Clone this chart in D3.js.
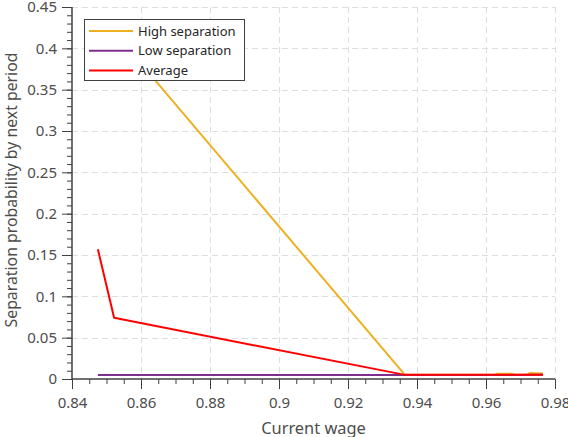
<!DOCTYPE html>
<html><head><meta charset="utf-8">
<script src="https://cdn.jsdelivr.net/npm/d3@7"></script>
<style>
html,body{margin:0;padding:0;background:#fff;}
svg{display:block;font-family:"Noto Sans",sans-serif;}
</style></head>
<body><svg id="chart" width="568" height="437"></svg>
<script>
// Data
const seriesNames = ["High separation", "Low separation", "Average"];
const wageHigh = [0.8475, 0.8522, 0.9365, 0.9500, 0.9625, 0.9632, 0.9675, 0.9685, 0.9720, 0.9728, 0.9765];
const probHigh = [0.400, 0.420, 0.005, 0.005, 0.005, 0.0064, 0.0064, 0.0052, 0.0052, 0.0074, 0.0068];
const wageLow = [0.8475, 0.9000, 0.9365, 0.9765];
const probLow = [0.0047, 0.0047, 0.0047, 0.0050];
const wageAvg = [0.8475, 0.8522, 0.9365, 0.9765];
const probAvg = [0.157, 0.074, 0.005, 0.005];
const xTicks = [0.84, 0.86, 0.88, 0.90, 0.92, 0.94, 0.96, 0.98];
const yTicks = [0, 0.05, 0.10, 0.15, 0.20, 0.25, 0.30, 0.35, 0.40, 0.45];
const colors = ["#EDB120", "#7E2F8E", "#FF0000"];

const W = 568, H = 437;
const m = {left: 72, top: 7, right: 13, bottom: 58};
const pw = W - m.left - m.right, ph = H - m.top - m.bottom;
const svg = d3.select("#chart");
const g = svg.append("g").attr("transform", `translate(${m.left},${m.top})`);

const x = d3.scaleLinear().domain([0.84, 0.98]).range([0, pw]);
const y = d3.scaleLinear().domain([0, 0.45]).range([ph, 0]);
const fmt = d => String(+d.toFixed(2));

// grid
const grid = g.append("g").attr("stroke", "#dedede").attr("stroke-width", 1).attr("stroke-dasharray", "6,4");
grid.selectAll(".gx").data(xTicks.slice(1)).join("line")
  .attr("x1", d => Math.round(x(d)) + 0.5).attr("x2", d => Math.round(x(d)) + 0.5)
  .attr("y1", 0).attr("y2", ph);
grid.selectAll(".gy").data(yTicks.slice(1)).join("line")
  .attr("y1", d => Math.round(y(d)) + 0.5).attr("y2", d => Math.round(y(d)) + 0.5)
  .attr("x1", 0).attr("x2", pw);

// lines
g.append("clipPath").attr("id", "clip").append("rect").attr("width", pw).attr("height", ph);
const series = [
  {name: seriesNames[0], xs: wageHigh, ys: probHigh, c: colors[0]},
  {name: seriesNames[1], xs: wageLow, ys: probLow, c: colors[1]},
  {name: seriesNames[2], xs: wageAvg, ys: probAvg, c: colors[2]}
];
const line = d3.line().x(d => x(d[0])).y(d => y(d[1]));
const lg = g.append("g").attr("clip-path", "url(#clip)");
series.forEach(s => {
  lg.append("path").datum(s.xs.map((v, i) => [v, s.ys[i]]))
    .attr("d", line).attr("fill", "none").attr("stroke", s.c)
    .attr("stroke-width", 2).attr("stroke-linejoin", "round");
});

// axes
const axisColor = "#404040", textColor = "#4d4d4d";
const xMinor = d3.range(0, 29).map(i => 0.84 + i * 0.005);
const yMinor = d3.range(0, 46).map(i => i * 0.01);
const xa = g.append("g").attr("transform", `translate(0,${ph})`)
  .call(d3.axisBottom(x).tickValues(xMinor).tickSize(5).tickFormat(""));
const xa2 = g.append("g").attr("transform", `translate(0,${ph})`)
  .call(d3.axisBottom(x).tickValues(xTicks).tickSize(10).tickPadding(8).tickFormat(fmt));
const ya = g.append("g").call(d3.axisLeft(y).tickValues(yMinor).tickSize(5).tickFormat(""));
const ya2 = g.append("g").call(d3.axisLeft(y).tickValues(yTicks).tickSize(10).tickPadding(5).tickFormat(fmt));
[xa, xa2, ya, ya2].forEach(a => {
  a.selectAll("path.domain").attr("stroke", axisColor).attr("stroke-width", 1.5);
  a.selectAll(".tick line").attr("stroke", axisColor).attr("stroke-width", 1);
  a.selectAll("text").attr("fill", textColor).style("font-size", "15px").style("font-family", "Noto Sans");
});
xa2.selectAll("path.domain").attr("d", `M0,0H${pw}`);
ya2.selectAll("path.domain").attr("d", `M0,${ph}V0`);
xa.selectAll("path.domain").remove();
ya.selectAll("path.domain").remove();

// axis labels
svg.append("text").attr("x", m.left + pw / 2).attr("y", 434).attr("text-anchor", "middle")
  .attr("fill", textColor).style("font-size", "16.4px").text("Current wage");
svg.append("text").attr("transform", `translate(17,${m.top + ph / 2 - 3}) rotate(-90)`)
  .attr("text-anchor", "middle").attr("fill", textColor).style("font-size", "15.8px")
  .text("Separation probability by next period");

// legend
const leg = svg.append("g").attr("transform", "translate(84,19)");
leg.append("rect").attr("x", 0.5).attr("y", 0.5).attr("width", 160).attr("height", 61)
  .attr("fill", "#fff").attr("stroke", "#404040").attr("stroke-width", 1);
series.forEach((s, i) => {
  const yy = 12 + i * 19.7;
  leg.append("line").attr("x1", 5).attr("x2", 49).attr("y1", yy).attr("y2", yy)
    .attr("stroke", s.c).attr("stroke-width", 2);
  leg.append("text").attr("x", 54).attr("y", yy).attr("dy", "0.35em")
    .attr("fill", "#262626").style("font-size", "13px").text(s.name);
});
</script></body></html>
